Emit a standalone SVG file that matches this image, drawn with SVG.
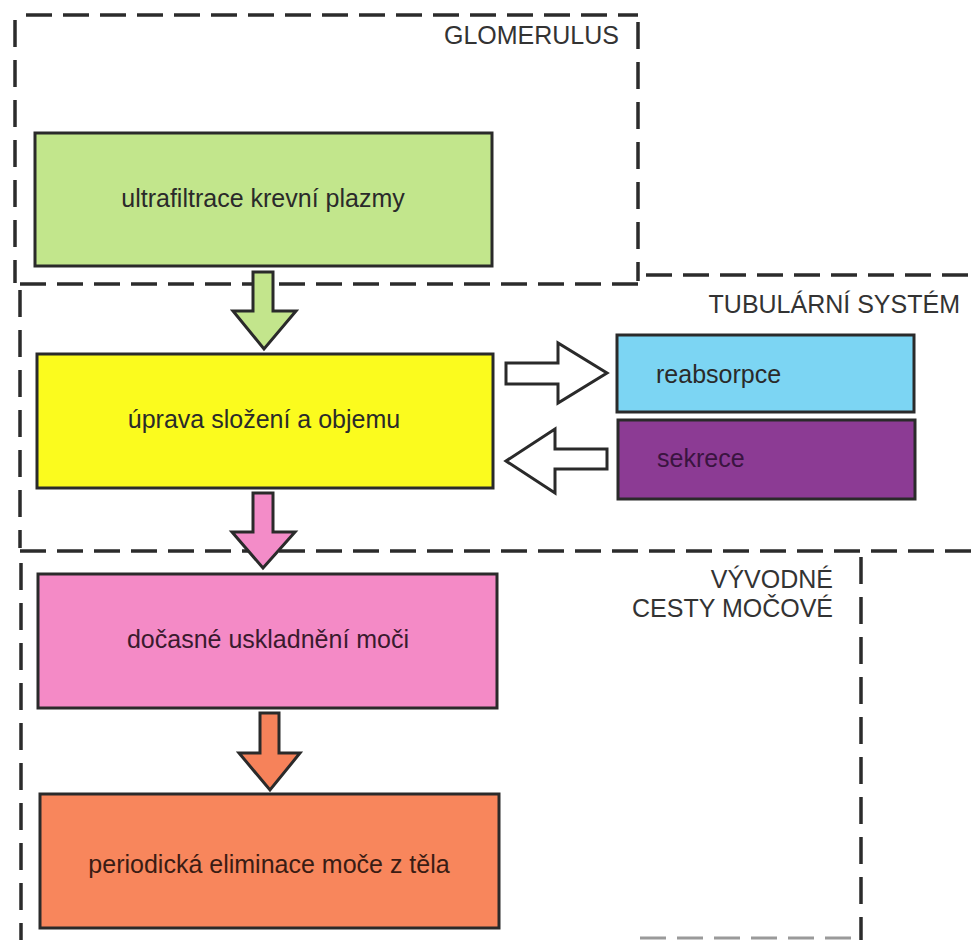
<svg xmlns="http://www.w3.org/2000/svg" width="977" height="940" viewBox="0 0 977 940">
<style>
.dash{fill:none;stroke:#2b2b2b;stroke-width:3.5;stroke-dasharray:26 11}
.vdash{fill:none;stroke:#2b2b2b;stroke-width:3.5;stroke-dasharray:27 13}
.box{stroke:#2a2a2a;stroke-width:3}
.arrow{stroke:#2a2a2a;stroke-width:3;stroke-linejoin:miter}
.t{font-family:"Liberation Sans",Arial,sans-serif;font-size:25px;fill:#2a2a2a}
.lbl{font-family:"Liberation Sans",Arial,sans-serif;font-size:25px;fill:#333;text-anchor:end}
.c{text-anchor:middle}
</style>
<rect width="977" height="940" fill="#fff"/>
<g id="regions">
  <g id="glomerulus">
    <path class="dash" d="M26,15 H638"/>
    <path class="vdash" d="M15,20 V283"/>
    <path class="vdash" d="M638,22 V281"/>
    <path class="dash" d="M20,284 H638"/>
    <text class="lbl" x="619" y="44">GLOMERULUS</text>
  </g>
  <g id="tubularni">
    <path class="dash" d="M646,275 H977"/>
    <path class="vdash" d="M20,290 V548"/>
    <path class="dash" d="M20,551 H977"/>
    <text class="lbl" x="960" y="313">TUBULÁRNÍ SYSTÉM</text>
  </g>
  <g id="vyvodne">
    <path class="vdash" d="M21,563 V940"/>
    <path class="vdash" d="M861,557 V940"/>
    <path d="M640,938 H862" fill="none" stroke="#9a9a9a" stroke-width="3" stroke-dasharray="26 11"/>
    <text class="lbl" x="833" y="588">VÝVODNÉ</text>
    <text class="lbl" x="833" y="617">CESTY MOČOVÉ</text>
  </g>
</g>
<g id="connectors">
  <path id="a-green" class="arrow" fill="#c3e58c" d="M253,272 H273 V311 H296 L264,349 L233,311 H253 Z"/>
  <path id="a-right" class="arrow" fill="#fff" d="M506,363 H558 V343 L607,373 L558,403 V384 H506 Z"/>
  <path id="a-left" class="arrow" fill="#fff" d="M607,449 H555 V429 L506,461 L555,493 V469 H607 Z"/>
  <path id="a-pink" class="arrow" fill="#f38cc8" d="M253,493 H273 V532 H295 L263,568 L232,532 H253 Z"/>
  <path id="a-orange" class="arrow" fill="#f6825a" d="M260,713 H279 V753 H300 L270,790 L239,753 H260 Z"/>
</g>
<g id="n-ultrafiltrace">
  <rect class="box" x="35" y="133" width="457" height="133" fill="#c2e68c"/>
  <text class="t c" x="263" y="207">ultrafiltrace krevní plazmy</text>
</g>
<g id="n-uprava">
  <rect class="box" x="37" y="354" width="456" height="134" fill="#fbfb1e"/>
  <text class="t c" x="264" y="428">úprava složení a objemu</text>
</g>
<g id="n-reabsorpce">
  <rect class="box" x="617" y="335" width="297" height="77" fill="#7cd5f3"/>
  <text class="t" x="656" y="383" fill="#1f3a4a">reabsorpce</text>
</g>
<g id="n-sekrece">
  <rect class="box" x="618" y="420" width="297" height="79" fill="#8c3b94"/>
  <text class="t" x="657" y="467" style="fill:#3a1440">sekrece</text>
</g>
<g id="n-uskladneni">
  <rect class="box" x="38" y="574" width="459" height="134" fill="#f48ac6"/>
  <text class="t c" x="268" y="648" style="fill:#3a1a2e">dočasné uskladnění moči</text>
</g>
<g id="n-eliminace">
  <rect class="box" x="40" y="794" width="459" height="134" fill="#f8865c"/>
  <text class="t c" x="269" y="873" style="fill:#3a1c14">periodická eliminace moče z těla</text>
</g>
</svg>
